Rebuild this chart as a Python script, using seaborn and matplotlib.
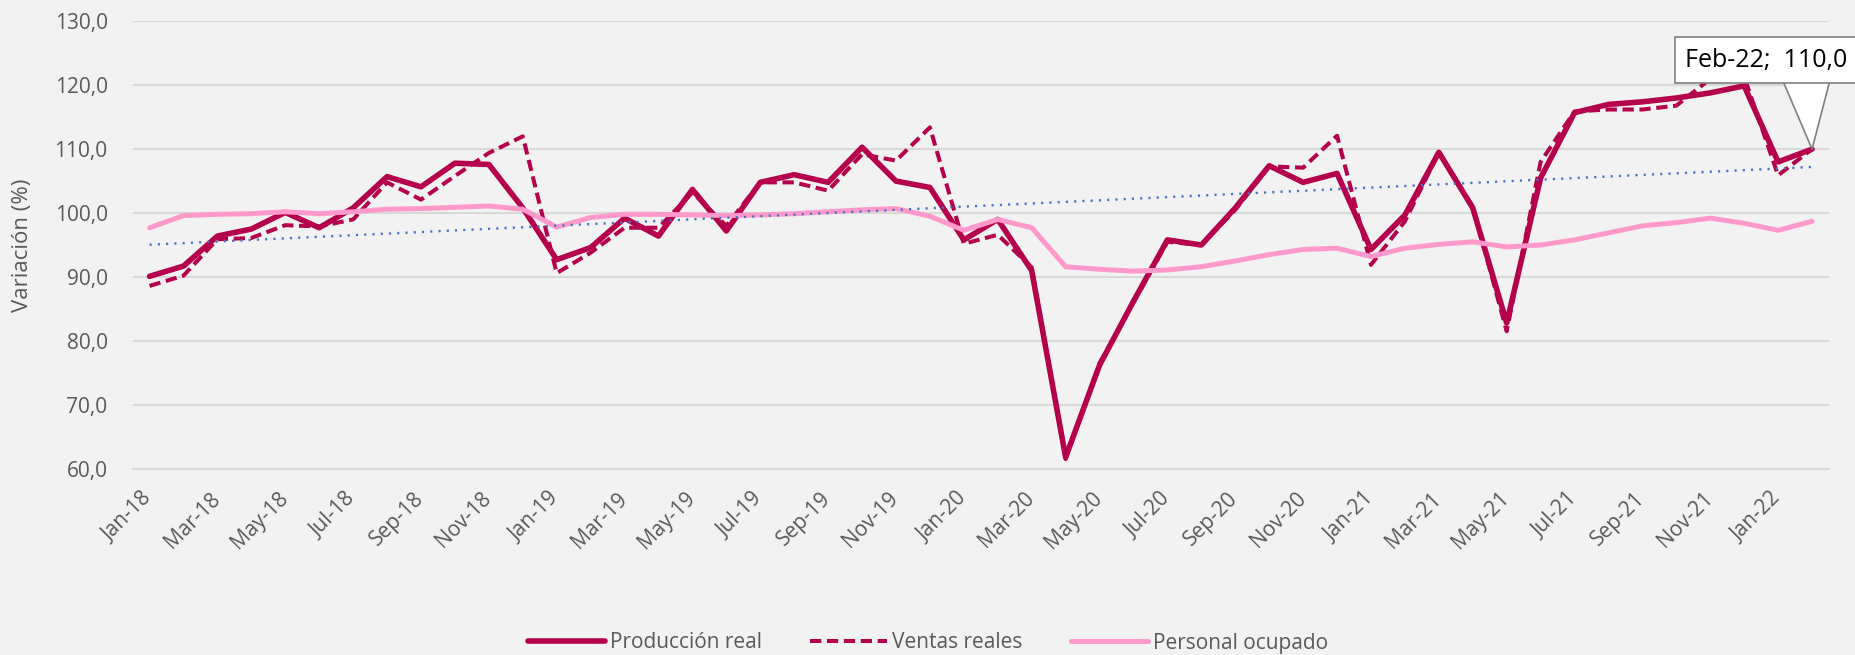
import numpy as np
import pandas as pd
import matplotlib
matplotlib.use("Agg")
import matplotlib.pyplot as plt
from matplotlib.ticker import FuncFormatter
from matplotlib.transforms import ScaledTranslation
import seaborn as sns

months = ["Jan-18", "Feb-18", "Mar-18", "Apr-18", "May-18", "Jun-18", "Jul-18", "Aug-18",
          "Sep-18", "Oct-18", "Nov-18", "Dec-18", "Jan-19", "Feb-19", "Mar-19", "Apr-19",
          "May-19", "Jun-19", "Jul-19", "Aug-19", "Sep-19", "Oct-19", "Nov-19", "Dec-19",
          "Jan-20", "Feb-20", "Mar-20", "Apr-20", "May-20", "Jun-20", "Jul-20", "Aug-20",
          "Sep-20", "Oct-20", "Nov-20", "Dec-20", "Jan-21", "Feb-21", "Mar-21", "Apr-21",
          "May-21", "Jun-21", "Jul-21", "Aug-21", "Sep-21", "Oct-21", "Nov-21", "Dec-21",
          "Jan-22", "Feb-22"]

produccion = [90.1, 91.7, 96.4, 97.5, 100.1, 97.7, 100.8, 105.7, 104.1, 107.8,
              107.6, 100.8, 92.7, 94.6, 99.2, 96.4, 103.7, 97.2, 104.8, 106.0,
              104.8, 110.3, 105.0, 104.0, 95.8, 99.0, 91.0, 61.8, 76.2, 86.2,
              95.8, 95.0, 100.8, 107.4, 104.8, 106.2, 94.3, 99.7, 109.5, 100.8,
              82.8, 105.5, 115.7, 117.0, 117.4, 118.0, 118.8, 119.9, 108.0, 110.0]

ventas = [88.6, 90.2, 95.9, 96.1, 98.1, 97.9, 99.0, 104.8, 102.1, 105.8,
          109.4, 112.0, 90.6, 93.8, 97.7, 97.7, 103.2, 98.0, 104.8, 104.8,
          103.5, 109.2, 108.2, 113.4, 95.2, 96.6, 91.5, 61.5, 76.5, 86.0,
          95.5, 95.0, 100.5, 107.3, 107.1, 112.1, 91.9, 98.7, 109.5, 101.0,
          81.5, 108.0, 115.9, 116.2, 116.2, 116.8, 121.0, 121.3, 105.9, 110.0]

personal = [97.7, 99.6, 99.8, 99.9, 100.2, 99.9, 100.2, 100.6, 100.7, 100.9,
            101.1, 100.6, 97.8, 99.3, 99.8, 99.8, 99.7, 99.6, 99.7, 99.9,
            100.2, 100.5, 100.7, 99.5, 97.3, 99.0, 97.7, 91.6, 91.2, 90.9,
            91.1, 91.6, 92.5, 93.5, 94.3, 94.5, 93.2, 94.5, 95.1, 95.5,
            94.7, 95.0, 95.8, 96.9, 98.0, 98.5, 99.2, 98.4, 97.3, 98.7]

series_names = ["Producción real", "Ventas reales", "Personal ocupado"]
y_ticks = [60, 70, 80, 90, 100, 110, 120, 130]

C_PROD = "#B5004B"
C_PINK = "#FF99CC"
C_TREND = "#4472C4"
C_TEXT = "#595959"
C_GRID = "#D9D9D9"
BG = "#F2F2F2"

df = pd.DataFrame({"idx": np.arange(len(months)), "mes": months,
                   "prod": produccion, "ventas": ventas, "personal": personal})

sns.set_theme(style="white")
plt.rcParams["font.family"] = ["Open Sans", "DejaVu Sans"]

W, H = 1856, 655
fig = plt.figure(figsize=(W / 100, H / 100), dpi=100, facecolor=BG)
x0, x1, ytop, ybot = 132.6, 1829.0, 21.3, 468.7
ax = fig.add_axes([x0 / W, 1 - ybot / H, (x1 - x0) / W, (ybot - ytop) / H])
ax.set_facecolor(BG)

sns.lineplot(data=df, x="idx", y="prod", color=C_PROD, lw=4.0, ax=ax,
             label=series_names[0], zorder=3, solid_joinstyle="round", solid_capstyle="round")
sns.lineplot(data=df, x="idx", y="ventas", color=C_PROD, lw=2.9, ax=ax,
             label=series_names[1], zorder=4, linestyle=(0, (2.8, 1.4)))
sns.lineplot(data=df, x="idx", y="personal", color=C_PINK, lw=3.6, ax=ax,
             label=series_names[2], zorder=5, solid_joinstyle="round", solid_capstyle="round")
sns.regplot(data=df, x="idx", y="prod", scatter=False, ci=None, truncate=True, ax=ax,
            line_kws=dict(color=C_TREND, lw=1.7, linestyle=(0, (0.9, 2.6)), zorder=6))

handles, labels = ax.get_legend_handles_labels()
if ax.get_legend() is not None:
    ax.get_legend().remove()

ax.set_xlim(-0.5, len(months) - 0.5)
ax.set_ylim(y_ticks[0], y_ticks[-1])
ax.set_yticks(y_ticks)
ax.yaxis.set_major_formatter(FuncFormatter(lambda v, p: f"{v:.1f}".replace(".", ",")))
ax.yaxis.grid(True, color=C_GRID, lw=1.5)
ax.set_axisbelow(True)
for s in ["top", "right", "left"]:
    ax.spines[s].set_visible(False)
ax.spines["bottom"].set_color(C_GRID)
ax.spines["bottom"].set_linewidth(1.5)

ax.set_xticks(np.arange(0, len(months), 2))
ax.set_xticklabels(months[::2], rotation=45, ha="right", rotation_mode="anchor",
                   fontsize=15, color=C_TEXT)
ax.set_xticks(np.arange(-0.5, len(months), 2), minor=True)
ax.tick_params(axis="x", which="major", length=0, pad=14)
ax.tick_params(axis="x", which="minor", length=8, width=1.5, color=C_GRID, direction="out")
ax.tick_params(axis="y", length=0, pad=18, labelsize=15, labelcolor=C_TEXT)
offset = ScaledTranslation(-0.08, 0, fig.dpi_scale_trans)
for lab in ax.get_xticklabels():
    lab.set_transform(lab.get_transform() + offset)

ax.set_xlabel("")
ax.set_ylabel("Variación (%)", fontsize=16, color=C_TEXT)
ax.yaxis.set_label_coords(-0.0588, 0.5)

last = len(months) - 1
pt = (last, produccion[last])
# callout pointer
ax.annotate("", xy=pt, xytext=(1806, H - 68), textcoords="figure pixels",
            arrowprops=dict(arrowstyle="wedge,tail_width=2.0,shrink_factor=0.5",
                            mutation_scale=20, fc="white", ec="#7F7F7F", lw=1.2,
                            shrinkA=0, shrinkB=0),
            annotation_clip=False, zorder=10)
txt = f"{months[last]};  " + f"{produccion[last]:.1f}".replace(".", ",")
ax.annotate(txt, xy=pt, xytext=(1685, H - 60.3), textcoords="figure pixels",
            ha="left", va="center", fontsize=18, color="black",
            bbox=dict(boxstyle="square,pad=0.42", fc="white", ec="#7F7F7F", lw=1.2),
            annotation_clip=False, zorder=11)

fig.legend(handles, labels, loc="center", bbox_to_anchor=(0.5, 1 - 643 / H), ncol=3,
           frameon=False, fontsize=15, handlelength=3.7, handletextpad=0.25,
           columnspacing=2.3, labelcolor=C_TEXT)

fig.savefig("out.png", dpi=100, facecolor=BG)
